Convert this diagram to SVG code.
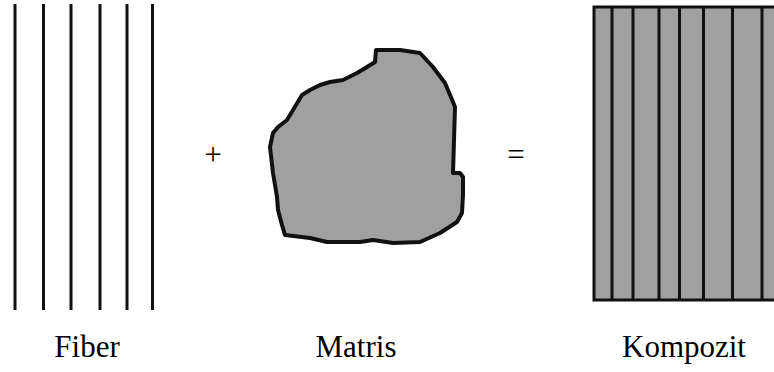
<svg xmlns="http://www.w3.org/2000/svg" width="774" height="372" viewBox="0 0 774 372">
<style>
.fib{stroke:#111;stroke-width:3;fill:none}
.lbl{font-family:"Liberation Serif","Times New Roman",serif;font-size:31px;fill:#000;text-anchor:middle}
.blk{stroke:#111;stroke-width:4;fill:#a0a0a0;stroke-linejoin:round}
.cmp{stroke:#111;stroke-width:3;fill:#a0a0a0}
</style>
<rect width="774" height="372" fill="#fff"/>
<g id="fiber">
<line class="fib" x1="15" y1="4" x2="15" y2="310"/>
<line class="fib" x1="43.5" y1="4" x2="43.5" y2="310"/>
<line class="fib" x1="71" y1="4" x2="71" y2="310"/>
<line class="fib" x1="100" y1="4" x2="100" y2="310"/>
<line class="fib" x1="127" y1="4" x2="127" y2="310"/>
<line class="fib" x1="152.5" y1="4" x2="152.5" y2="310"/>
<text class="lbl" x="87" y="357">Fiber</text>
</g>
<g id="plus"><text class="lbl" x="213" y="165">+</text></g>
<g id="matris">
<path class="blk" d="M376,50 L400,50 L420,53 L433,67 L445,83 L453,102 L455,107 L454,140 L453,173 L460,173 L463,177 L463,195 L462,213 L457,222 L440,233 L420,242 L393,243 L373,240 L360,242 L327,242 L310,238 L285,235 L282,225 L278,210 L277,197 L273,173 L270,147 L273,133 L278,127 L287,120 L293,110 L302,95 L310,90 L320,85 L330,82 L343,80 L357,73 L367,67 L375,62 Z"/>
<text class="lbl" x="356" y="357">Matris</text>
</g>
<g id="equals"><text class="lbl" x="516" y="165">=</text></g>
<g id="kompozit">
<rect class="cmp" x="594" y="7" width="190" height="293"/>
<line class="fib" x1="612" y1="7" x2="612" y2="300"/>
<line class="fib" x1="633" y1="7" x2="633" y2="300"/>
<line class="fib" x1="659" y1="7" x2="659" y2="300"/>
<line class="fib" x1="679.5" y1="7" x2="679.5" y2="300"/>
<line class="fib" x1="703.5" y1="7" x2="703.5" y2="300"/>
<line class="fib" x1="732.5" y1="7" x2="732.5" y2="300"/>
<line class="fib" x1="762" y1="7" x2="762" y2="300"/>
<text class="lbl" x="684" y="357">Kompozit</text>
</g>
</svg>
